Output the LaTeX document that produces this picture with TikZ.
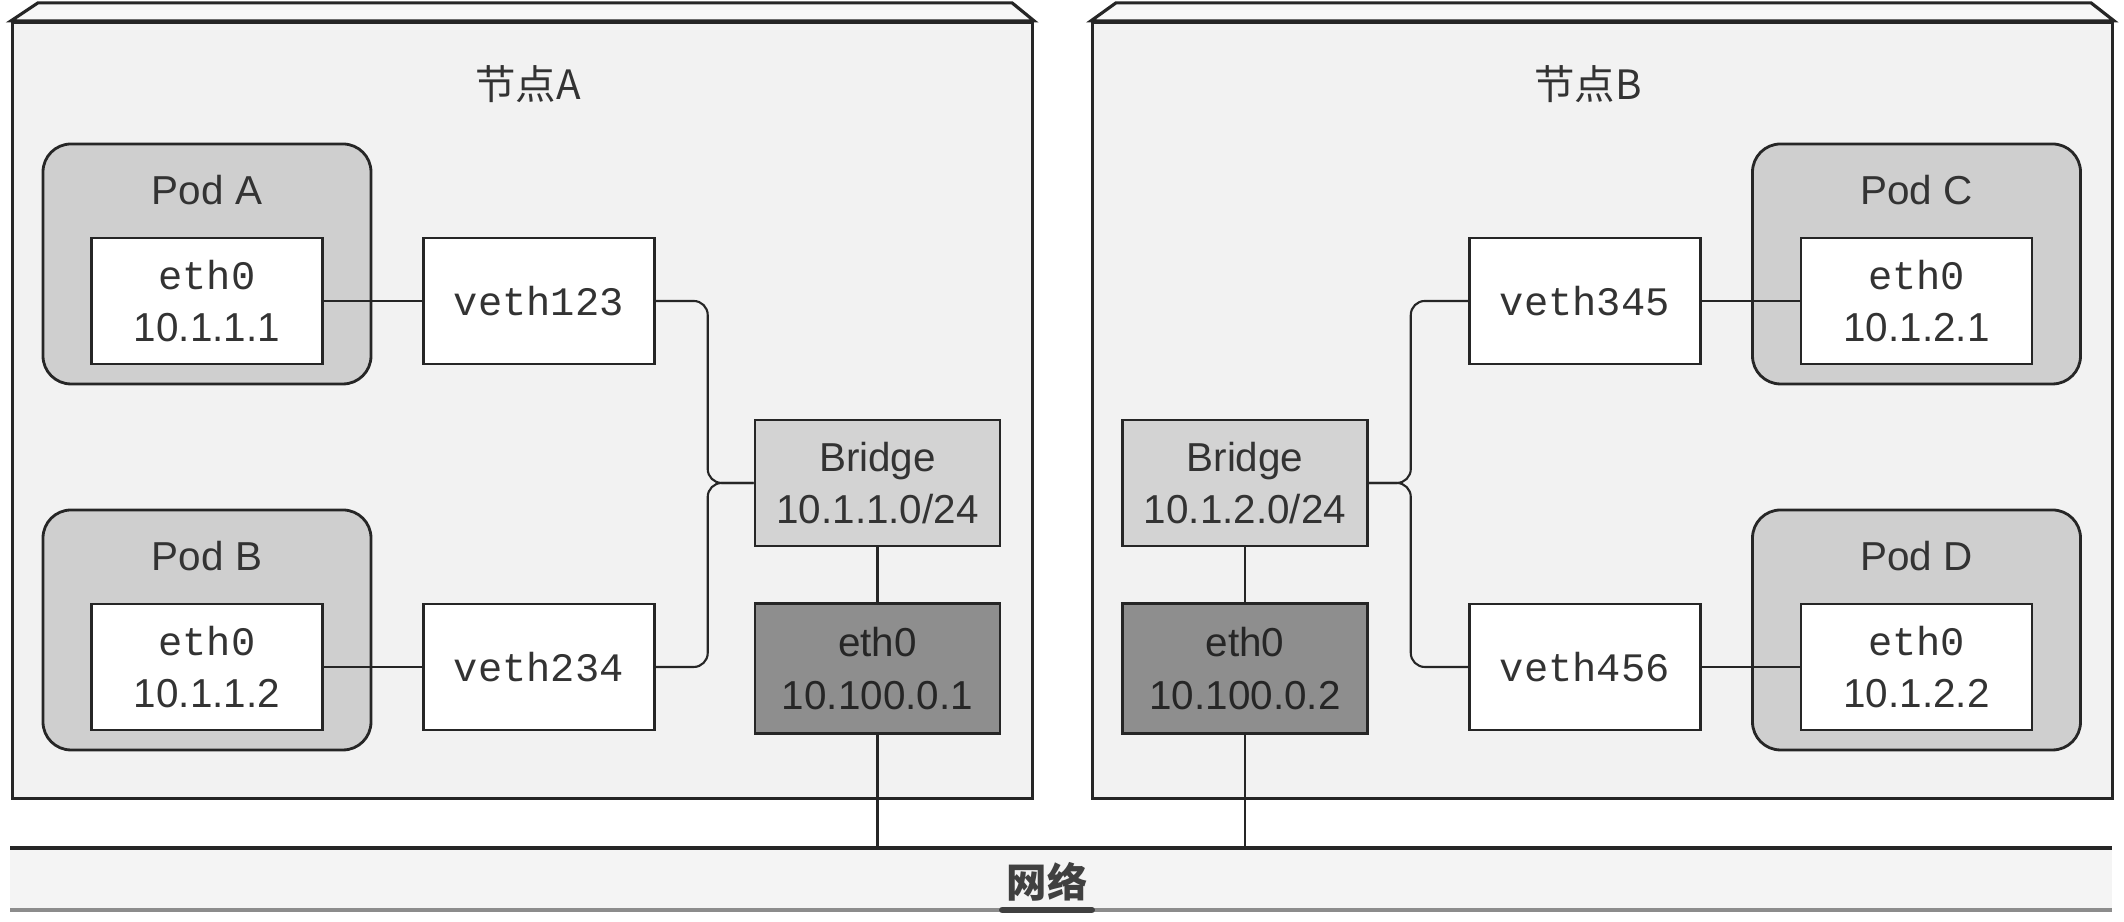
\documentclass[tikz,border=0pt]{standalone}
\usepackage{fontspec}
\setmainfont{Liberation Sans}
\setmonofont{Liberation Mono}
\newfontfamily\cjk{Noto Sans CJK SC}
\usepackage{tikz}
\usetikzlibrary{positioning}

\definecolor{hostfill}{HTML}{F2F2F2}
\definecolor{podfill}{HTML}{CFCFCF}
\definecolor{bridgefill}{HTML}{D3D3D3}
\definecolor{nicfill}{HTML}{8E8E8E}
\definecolor{netfill}{HTML}{F4F4F4}

\begin{document}
\begin{tikzpicture}[
    font=\fontsize{11.5}{15}\selectfont,
    machine/.style={rectangle, draw=black!85, line width=0.9pt, fill=hostfill, minimum width=10.2cm, minimum height=7.76cm},
    bevel/.style={draw=black!85, line width=0.9pt, fill=hostfill!60},
    title/.style={font=\cjk\fontsize{11.5}{14}\selectfont, text=black!80},
    pod/.style={rectangle, draw=black!85, line width=0.8pt, rounded corners=0.28cm, fill=podfill, minimum width=3.28cm, minimum height=2.40cm},
    podname/.style={inner sep=0pt, text=black!80},
    nic/.style={rectangle, draw=black!85, line width=0.8pt, fill=white, minimum width=2.31cm, minimum height=1.26cm, align=center, text=black!80},
    vethbox/.style={nic, font=\fontsize{11.5}{15}\selectfont\ttfamily},
    bridgebox/.style={nic, fill=bridgefill, minimum width=2.45cm},
    hostnic/.style={bridgebox, fill=nicfill, minimum height=1.30cm, text=black!85},
    wire/.style={draw=black!85, line width=0.6pt}
]
\useasboundingbox (0,0) rectangle (21.24,9.22);

% Hosts
\node[machine] (nodeA) at (5.225,5.115) {};
\node[machine] (nodeB) at (16.025,5.115) {};
\filldraw[bevel] (nodeA.north west) -- ++(0.27,0.18) -- ([shift={(-0.22,0.18)}]nodeA.north east) -- (nodeA.north east) -- cycle;
\filldraw[bevel] (nodeB.north west) -- ++(0.25,0.18) -- ([shift={(-0.23,0.18)}]nodeB.north east) -- (nodeB.north east) -- cycle;
\node[title] (titleA) at (5.28,8.38) {节点A};
\node[title] (titleB) at (15.88,8.38) {节点B};

% Pods on node A
\node[pod] (podA) at (2.07,6.58) {};
\node[nic, above=0.2cm of podA.south] (eth0A) {{\ttfamily eth0}\\10.1.1.1};
\node[podname, below=0.32cm of podA.north] (nameA) {Pod A};
\node[pod] (podB) at (2.07,2.92) {};
\node[nic, above=0.2cm of podB.south] (eth0B) {{\ttfamily eth0}\\10.1.1.2};
\node[podname, below=0.32cm of podB.north] (nameB) {Pod B};

% Pods on node B
\node[pod] (podC) at (19.165,6.58) {};
\node[nic, above=0.2cm of podC.south] (eth0C) {{\ttfamily eth0}\\10.1.2.1};
\node[podname, below=0.32cm of podC.north] (nameC) {Pod C};
\node[pod] (podD) at (19.165,2.92) {};
\node[nic, above=0.2cm of podD.south] (eth0D) {{\ttfamily eth0}\\10.1.2.2};
\node[podname, below=0.32cm of podD.north] (nameD) {Pod D};

% veth pairs
\node[vethbox, right=0.98cm of eth0A] (veth123) {veth123};
\node[vethbox, right=0.98cm of eth0B] (veth234) {veth234};
\node[vethbox, left=0.98cm of eth0C] (veth345) {veth345};
\node[vethbox, left=0.98cm of eth0D] (veth456) {veth456};

% Bridges and host NICs
\node[bridgebox] (bridgeA) at (8.775,4.39) {Bridge\\10.1.1.0/24};
\node[hostnic, below=0.55cm of bridgeA] (hostA) {eth0\\10.100.0.1};
\node[bridgebox] (bridgeB) at (12.45,4.39) {Bridge\\10.1.2.0/24};
\node[hostnic, below=0.55cm of bridgeB] (hostB) {eth0\\10.100.0.2};

% Network
\coordinate (netTop) at (0.10,0.74);
\coordinate (netBot) at (0.10,0.12);
\fill[netfill] (0.10,0.13) rectangle (21.12,0.74);
\draw[black!85, line width=0.9pt] (netTop) -- (21.12,0.74);
\draw[black!45, line width=1.1pt] (netBot) -- (21.12,0.12);
\node[font=\cjk\bfseries\fontsize{11.5}{14}\selectfont, text=black!75] (net) at (10.47,0.40) {网络};
\draw[black!75, line width=1.8pt, line cap=round] ([xshift=0.08cm]net.west |- netBot) -- ([xshift=-0.08cm]net.east |- netBot);

% Links
\draw[wire] (eth0A) -- (veth123);
\draw[wire] (eth0B) -- (veth234);
\draw[wire] (eth0C) -- (veth345);
\draw[wire] (eth0D) -- (veth456);
\draw[wire, rounded corners=0.14cm] (veth123.east) -- ++(0.52,0) |- (bridgeA.west);
\draw[wire, rounded corners=0.14cm] (veth234.east) -- ++(0.52,0) |- (bridgeA.west);
\draw[wire, rounded corners=0.14cm] (veth345.west) -- ++(-0.57,0) |- (bridgeB.east);
\draw[wire, rounded corners=0.14cm] (veth456.west) -- ++(-0.57,0) |- (bridgeB.east);
\draw[wire] (bridgeA) -- (hostA);
\draw[wire] (bridgeB) -- (hostB);
\draw[wire] (hostA) -- (hostA |- netTop);
\draw[wire] (hostB) -- (hostB |- netTop);

\end{tikzpicture}
\end{document}
